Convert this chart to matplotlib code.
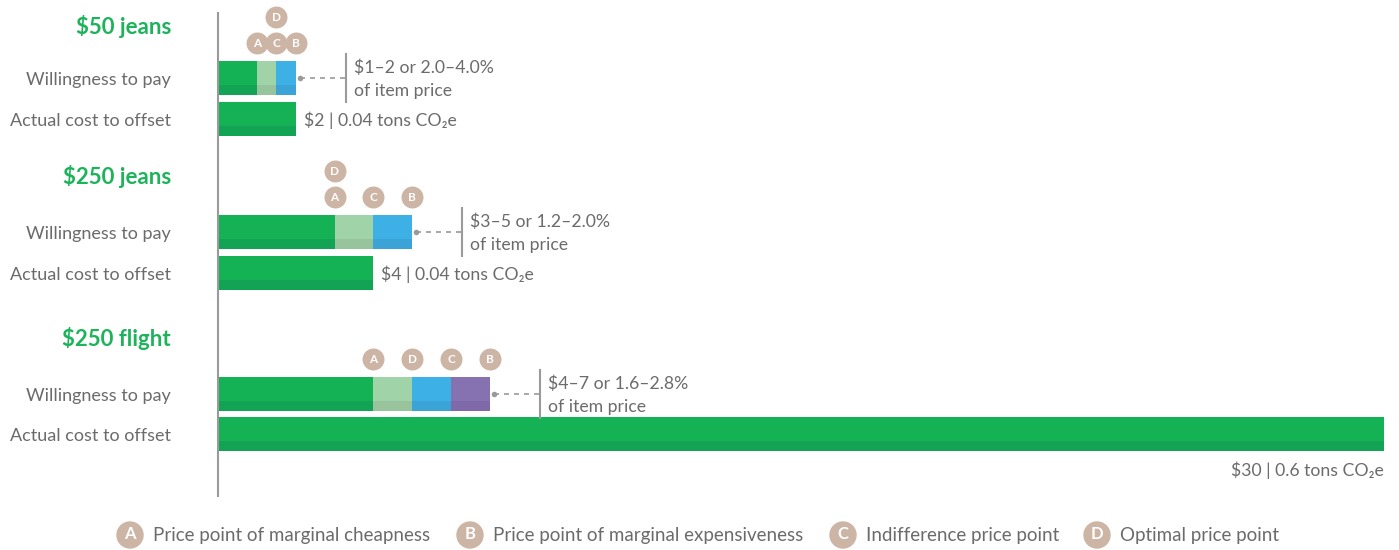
import matplotlib.pyplot as plt
from matplotlib.patches import Circle

plt.rcParams['font.family'] = ['Lato', 'DejaVu Sans']

# Price points per product, in dollars
products = ['$50 jeans', '$250 jeans', '$250 flight']
point_a = [1, 3, 4]      # marginal cheapness
point_b = [2, 5, 7]      # marginal expensiveness
point_c = [1.5, 4, 6]    # indifference
point_d = [1.5, 3, 5]    # optimal
wtp_labels = ['$1\u20132 or 2.0\u20134.0%', '$3\u20135 or 1.2\u20132.0%', '$4\u20137 or 1.6\u20132.8%']
offset_cost = [2, 4, 30]
offset_tons = ['0.04', '0.04', '0.6']

legend_letters = ['A', 'B', 'C', 'D']
legend_names = ['Price point of marginal cheapness', 'Price point of marginal expensiveness',
                'Indifference price point', 'Optimal price point']

# Colours
GREEN = '#14b255'
GREEN_DK = '#13a354'
SEG_COLORS = [('#a0d3a8', '#97c49c'), ('#3db0e5', '#3ba3d6'), ('#8672b0', '#7f69a8')]
DOT = '#cdb5a6'
TEXT = '#6b6b6b'
LINE = '#9a9a9a'
TITLE = '#1db35a'

W, H = 1399, 550
x0_px, x30_px = 218, 1384
px_per_dollar = (x30_px - x0_px) / 30.0

fig = plt.figure(figsize=(W / 100, H / 100), dpi=100)
ax = fig.add_axes([0, 0, 1, 1])
ax.set_xlim(-x0_px / px_per_dollar, (W - x0_px) / px_per_dollar)
ax.set_ylim(H, 0)
ax.axis('off')

# Vertical layout of each block (pixel rows)
title_y = [26, 176, 338]
wtp_y = [78, 232, 394]
cost_y = [119, 273, 434]
bar_h = 34
strip_h = 10
label_x = (171 - x0_px) / px_per_dollar
FS = 13


def shaded_bar(y, left, width, color, dark):
    ax.barh(y, width, left=left, height=bar_h, color=color, linewidth=0)
    ax.barh(y + bar_h / 2 - strip_h / 2, width, left=left, height=strip_h, color=dark, linewidth=0)


def dot(x, y, letter, size=250, fs=8.5):
    ax.scatter([x], [y], s=size, color=DOT, zorder=5, linewidths=0)
    ax.text(x, y + 0.5, letter, ha='center', va='center', color='white',
            fontsize=fs, fontweight='bold', zorder=6)


ax.plot([0, 0], [12, 497], color=LINE, lw=1.5, solid_capstyle='butt')

for i, name in enumerate(products):
    ax.text(label_x, title_y[i], name, ha='right', va='center', color=TITLE,
            fontsize=16, fontweight='bold', parse_math=False)
    ax.text(label_x, wtp_y[i] + 2, 'Willingness to pay', ha='right', va='center',
            color=TEXT, fontsize=FS)
    ax.text(label_x, cost_y[i] + 2, 'Actual cost to offset', ha='right', va='center',
            color=TEXT, fontsize=FS)

    # willingness-to-pay bar split at the price points
    pts = sorted(set([point_a[i], point_b[i], point_c[i], point_d[i]]))
    shaded_bar(wtp_y[i], 0, pts[0], GREEN, GREEN_DK)
    for k in range(len(pts) - 1):
        c, d = SEG_COLORS[k]
        shaded_bar(wtp_y[i], pts[k], pts[k + 1] - pts[k], c, d)

    # letter markers above the bar, stacked where points coincide
    row_y = wtp_y[i] - bar_h / 2 - 18
    used = {}
    for letter, vals in zip('ABCD', [point_a, point_b, point_c, point_d]):
        v = vals[i]
        n = used.get(v, 0)
        dot(v, row_y - n * 26, letter)
        used[v] = n + 1

    # range annotation
    end = pts[-1]
    brk = end + 50 / px_per_dollar
    ax.plot([end + 4 / px_per_dollar], [wtp_y[i]], 'o', ms=4, color=LINE, mec='none')
    ax.plot([end + 4 / px_per_dollar, brk], [wtp_y[i], wtp_y[i]], color=LINE, lw=1.2,
            ls=(0, (3, 3)))
    ax.plot([brk, brk], [wtp_y[i] - 24, wtp_y[i] + 24], color=LINE, lw=1.5)
    tx = brk + 8 / px_per_dollar
    ax.text(tx, wtp_y[i] - 10, wtp_labels[i], ha='left', va='center', color=TEXT,
            fontsize=12.7, parse_math=False)
    ax.text(tx, wtp_y[i] + 13, 'of item price', ha='left', va='center', color=TEXT,
            fontsize=12.7)

    # actual offset cost
    shaded_bar(cost_y[i], 0, offset_cost[i], GREEN, GREEN_DK)
    label = '$%d | %s tons CO\u2082e' % (offset_cost[i], offset_tons[i])
    if offset_cost[i] > 20:
        ax.text(offset_cost[i], cost_y[i] + 36, label, ha='right', va='center',
                color=TEXT, fontsize=12.7, parse_math=False)
    else:
        ax.text(offset_cost[i] + 8 / px_per_dollar, cost_y[i] + 1, label, ha='left',
                va='center', color=TEXT, fontsize=12.7, parse_math=False)

# legend along the bottom
legend_px = [130, 470, 843, 1097]
for px, letter, name in zip(legend_px, legend_letters, legend_names):
    fx = px / W
    fy = 1 - 535 / H
    fig.patches.append(Circle((px, H - 535), 13, transform=None, color=DOT, zorder=5))
    fig.text(fx, fy + 0.001, letter, ha='center', va='center', color='white',
             fontsize=12, fontweight='bold', zorder=10)
    fig.text((px + 23) / W, fy, name, ha='left', va='center', color=TEXT,
             fontsize=13.5, zorder=10)

fig.savefig('out.png', dpi=100, facecolor='white')
